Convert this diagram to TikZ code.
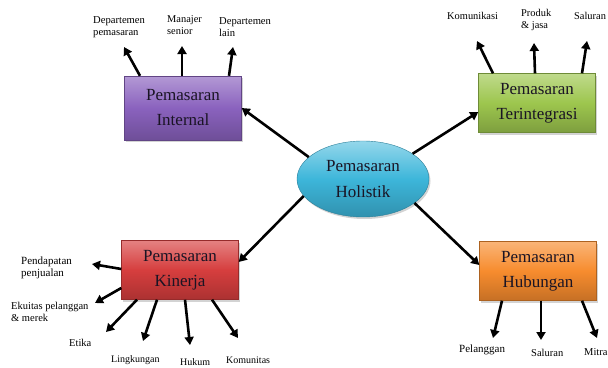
\documentclass[tikz,border=0pt]{standalone}
\usepackage{fontspec}
\setmainfont{Liberation Serif}
\usetikzlibrary{arrows.meta,shapes.geometric,shadows}
\definecolor{purp}{HTML}{8A62BE}
\definecolor{grn}{HTML}{9DC64E}
\definecolor{redb}{HTML}{D63E3E}
\definecolor{orng}{HTML}{F78C2E}
\definecolor{cyanb}{HTML}{3DB6DA}
\definecolor{ink}{HTML}{1A1424}
\begin{document}
\begin{tikzpicture}[x=1pt,y=-1pt,
  box/.style={rectangle, minimum width=117pt, minimum height=59pt, align=center,
    text=ink, font=\fontsize{17}{25}\selectfont,
    top color=#1!65!white, bottom color=#1!80!black, middle color=#1,
    draw=#1!70!black, line width=.4pt,
    drop shadow={shadow xshift=1.5pt, shadow yshift=-2pt, opacity=.35}},
  holi/.style={ellipse, minimum width=132pt, minimum height=76pt, inner sep=0pt,
    align=center, text=ink, font=\fontsize{17}{26}\selectfont,
    top color=cyanb!55!white, bottom color=cyanb!80!black, middle color=cyanb,
    draw=cyanb!70!black, line width=.4pt,
    drop shadow={shadow xshift=1.5pt, shadow yshift=-2pt, opacity=.35}},
  lab/.style={font=\fontsize{#1}{11.5}\selectfont, align=left, inner sep=0pt,
    anchor=west, text=black},
  arr/.style={line width=2.6pt, -{Triangle[length=8pt,width=9pt]}}]
\useasboundingbox (0,0) rectangle (608,367);

% central ellipse and the four boxes
\node[box=purp, minimum height=64pt] (int) at (183,108) {Pemasaran\\Internal};
\node[box=grn] (ter) at (537,103) {Pemasaran\\Terintegrasi};
\node[box=redb] (kin) at (180,270) {Pemasaran\\Kinerja};
\node[box=orng] (hub) at (538,271) {Pemasaran\\Hubungan};
\node[holi] (hol) at (363,179) {Pemasaran\\Holistik};

% arrows from the centre to the boxes
\draw[arr] (hol.158) -- (int.east);
\draw[arr] (hol.27) -- ([yshift=-9pt]ter.west);
\draw[arr] (hol.196) -- ([yshift=8pt]kin.east);
\draw[arr] (hol.335) -- ([yshift=6pt]hub.west);

% Pemasaran Internal
\coordinate (i1) at (124,47);
\coordinate (i2) at (182,46);
\coordinate (i3) at (233,47);
\draw[arr] ([xshift=-43pt]int.north) -- (i1);
\draw[arr] ([xshift=-1pt]int.north) -- (i2);
\draw[arr] ([xshift=46pt]int.north) -- (i3);
\node[lab=10.6] (li1) at (93,27) {Departemen\\pemasaran};
\node[lab=10.4] (li2) at (167,25) {Manajer\\senior};
\node[lab=10.6] (li3) at (219,27) {Departemen\\lain};

% Pemasaran Terintegrasi
\coordinate (t1) at (477,41);
\coordinate (t2) at (534,43);
\coordinate (t3) at (587,41);
\draw[arr] ([xshift=-44pt]ter.north) -- (t1);
\draw[arr] ([xshift=-2pt]ter.north) -- (t2);
\draw[arr] ([xshift=45pt]ter.north) -- (t3);
\node[lab=10.4] (lt1) at (447,16) {Komunikasi};
\node[lab=10.4] (lt2) at (521,20) {Produk\\\&\ jasa};
\node[lab=10.4] (lt3) at (574,16) {Saluran};

% Pemasaran Kinerja
\coordinate (k1) at (92,264);
\coordinate (k2) at (95,303);
\coordinate (k3) at (106,332);
\coordinate (k4) at (143,341);
\coordinate (k5) at (190,345);
\coordinate (k6) at (238,338);
\draw[arr] ([yshift=1pt]kin.west) -- (k1);
\draw[arr] ([yshift=-18pt]kin.west) -- (k2);
\draw[arr] ([xshift=-43pt]kin.south) -- (k3);
\draw[arr] ([xshift=-23pt]kin.south) -- (k4);
\draw[arr] ([xshift=5pt]kin.south) -- (k5);
\draw[arr] ([xshift=32pt]kin.south) -- (k6);
\node[lab=11] (lk1) at (21,268) {Pendapatan\\penjualan};
\node[lab=10.5] (lk2) at (11,312) {Ekuitas pelanggan\\\&\ merek};
\node[lab=10.5] (lk3) at (69,343) {Etika};
\node[lab=10] (lk4) at (111,360) {Lingkungan};
\node[lab=10] (lk5) at (180,362) {Hukum};
\node[lab=10] (lk6) at (226,360) {Komunitas};

% Pemasaran Hubungan
\coordinate (h1) at (493,338);
\coordinate (h2) at (541,340);
\coordinate (h3) at (597,338);
\draw[arr] ([xshift=-36pt]hub.south) -- (h1);
\draw[arr] ([xshift=3pt]hub.south) -- (h2);
\draw[arr] ([xshift=44pt]hub.south) -- (h3);
\node[lab=11] (lh1) at (459,350) {Pelanggan};
\node[lab=10.5] (lh2) at (531,353) {Saluran};
\node[lab=10.5] (lh3) at (584,352) {Mitra};
\end{tikzpicture}
\end{document}
